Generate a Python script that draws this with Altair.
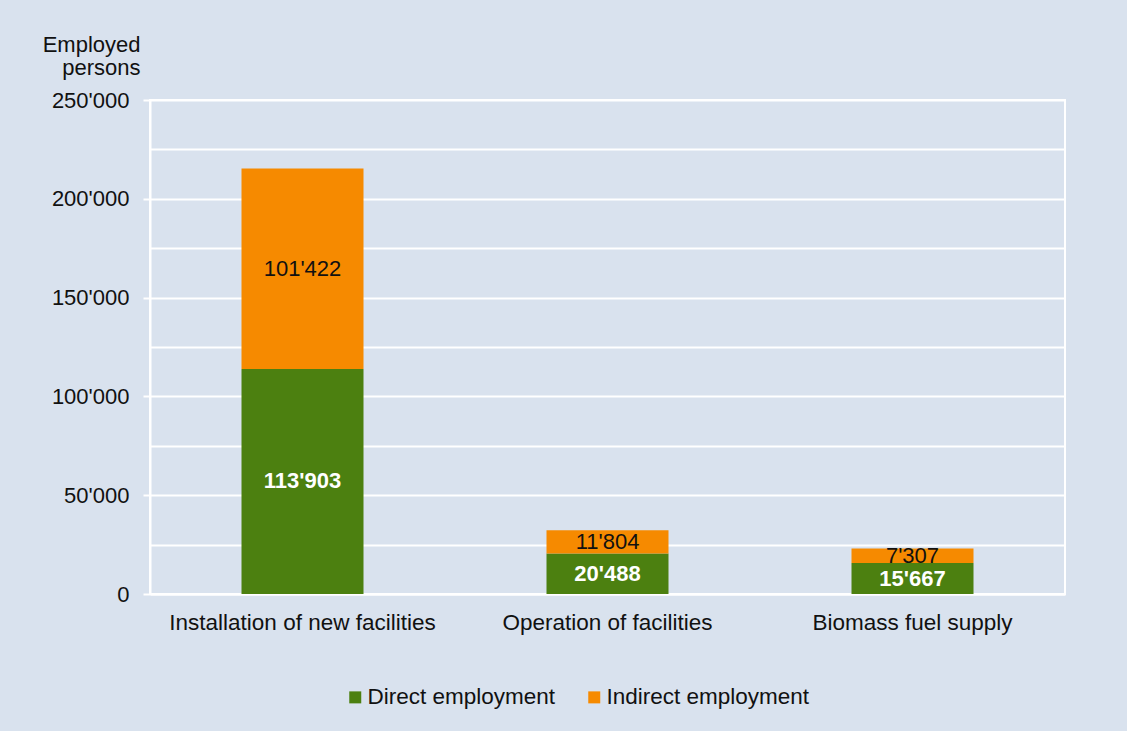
import altair as alt
import pandas as pd

categories = ["Installation of new facilities", "Operation of facilities", "Biomass fuel supply"]
direct = [113903, 20488, 15667]
indirect = [101422, 11804, 7307]
series = ["Direct employment", "Indirect employment"]
colors = ["#4C8010", "#F68A00"]

rows = []
for c, d, i in zip(categories, direct, indirect):
    rows.append({"category": c, "type": series[0], "value": d, "ord": 0})
    rows.append({"category": c, "type": series[1], "value": i, "ord": 1})
df = pd.DataFrame(rows)

FONT = "Liberation Sans"
FS = 22
TXT = "#111111"
BG = "#D9E2EE"

fmt = "replace(format(datum.value, ','), ',', \"'\")"

base = alt.Chart(df).transform_stack(
    stack="value", groupby=["category"], as_=["y0", "y1"], sort=[alt.SortField("ord")]
).transform_calculate(
    ymid="(datum.y0 + datum.y1) / 2",
    label=fmt,
)

x = alt.X("category:N", sort=categories, title=None,
          scale=alt.Scale(paddingInner=0.6, paddingOuter=0.3),
          axis=alt.Axis(labelAngle=0, labelFont=FONT, labelFontSize=22.5, labelColor=TXT,
                        labelPadding=17, ticks=False, domainColor="white", domainWidth=2,
                        labelLimit=400))

bars = base.mark_bar().encode(
    x=x,
    y=alt.Y("y0:Q", scale=alt.Scale(domain=[0, 250000], nice=False),
            axis=alt.Axis(
                values=list(range(0, 250001, 25000)),
                title=["Employed", "persons"],
                titleAngle=0, titleAlign="right", titleBaseline="alphabetic",
                titleX=-10, titleY=-49, titleFont=FONT, titleFontSize=FS,
                titleFontWeight="normal", titleColor=TXT, titleLineHeight=23,
                labelExpr="datum.value % 50000 === 0 ? " + fmt + " : ''",
                labelFont=FONT, labelFontSize=FS, labelColor=TXT, labelPadding=14,
                tickSize=7, tickColor="white", tickWidth=2,
                tickOpacity={"condition": {"test": "datum.value % 50000 === 0", "value": 1}, "value": 0},
                grid=True, gridColor="white", gridWidth=2,
                domainColor="white", domainWidth=2,
            )),
    y2="y1:Q",
    color=alt.Color("type:N", scale=alt.Scale(domain=series, range=colors),
                    legend=alt.Legend(title=None, orient="none", direction="horizontal",
                                      legendX=194, legendY=586,
                                      symbolType="square", symbolSize=144,
                                      symbolStrokeWidth=0, symbolOpacity=1,
                                      labelFont=FONT, labelFontSize=22.5, labelColor=TXT,
                                      labelLimit=400,
                                      labelOffset=1, columnPadding=27)),
    order=alt.Order("ord:Q"),
)

text_direct = base.transform_filter(alt.datum.ord == 0).mark_text(
    font=FONT, fontSize=FS, fontWeight="bold", color="white", baseline="middle"
).encode(x=alt.X("category:N", sort=categories), y="ymid:Q", text="label:N")

text_indirect = base.transform_filter(alt.datum.ord == 1).mark_text(
    font=FONT, fontSize=FS, color=TXT, baseline="middle"
).encode(x=alt.X("category:N", sort=categories), y="ymid:Q", text="label:N")

chart = alt.layer(bars, text_direct, text_indirect).properties(
    width=915, height=494,
    padding={"left": 150, "top": 100, "right": 62, "bottom": 137},
    autosize=alt.AutoSizeParams(type="none"),
    background=BG,
).configure_view(stroke="white", strokeWidth=2)

chart.save("out.html", embed_options={"renderer": "svg", "actions": False})
